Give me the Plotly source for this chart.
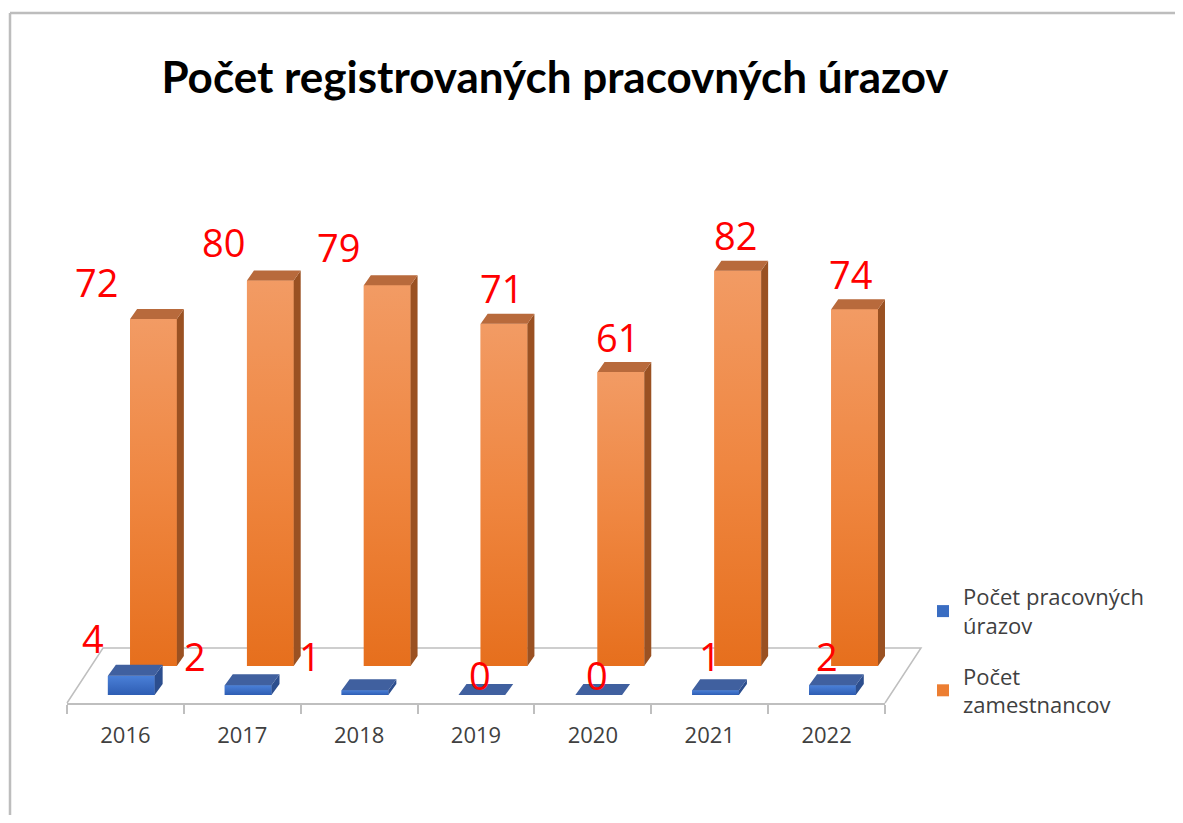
import plotly.graph_objects as go

# ---------------- data ----------------
years = ["2016", "2017", "2018", "2019", "2020", "2021", "2022"]
urazy = [4, 2, 1, 0, 0, 1, 2]                       # Počet pracovných úrazov
zamestnanci = [72, 80, 79, 71, 61, 82, 74]          # Počet zamestnancov
name_urazy = "Počet pracovných<br>úrazov"
name_zam = "Počet<br>zamestnancov"
title_text = "Počet registrovaných pracovných úrazov"

# ---------------- styling / geometry ----------------
SHIFT = 8                 # page body margin of the html page
W, H = 1183 - 2 * SHIFT, 823 - 2 * SHIFT


def fx(p):                # reference pixel -> figure pixel
    return p - SHIFT


PL, PR = fx(67), fx(885)          # plot area (x)
PT, PB = fx(100), fx(703)         # plot area (y)
PX_PER_CAT = (PR - PL) / len(years)
PX_PER_UNIT = 4.82
BLUE_BASE_PX = fx(695)
ORANGE_BASE_PX = fx(666)

BAR_W = 0.40
BLUE_OFF = -0.15
OR_OFF = 0.04
DX_B, DY_B = 8 / PX_PER_CAT, 11 / PX_PER_UNIT
DX_O, DY_O = 7 / PX_PER_CAT, 10 / PX_PER_UNIT

blue_label_dx = [-38, -53, -55, -2, -2, -6, -5]
blue_label_dy = [38, 29, 34, 20, 20, 34, 29]
or_label_dx = [-57, -47, -49, -3, -3, -2, -4]
or_label_dy = [37, 38, 38, 36, 35, 36, 35]

C_OR_FRONT = "#EC7E32"
C_OR_GRAD = [[0, "#E66F1D"], [0.5, "#EF8640"], [1, "#F29B64"]]
C_OR_TOP = "#B86A3C"
C_OR_SIDE = "#9A5122"
C_BL_FRONT = "#3A6DC2"
C_BL_GRAD = [[0, "#2E5DB3"], [1, "#4A80D8"]]
C_BL_TOP = "#40609F"
C_BL_SIDE = "#2C4E8E"
TXT = "#404040"
GRID = "#BFBFBF"

idx = list(range(len(years)))


def faces(values, off, dx, dy):
    tx, ty, sx, sy = [], [], [], []
    for i, v in zip(idx, values):
        x0 = i + off
        x1 = x0 + BAR_W
        tx += [x0, x1, x1 + dx, x0 + dx, x0, None]
        ty += [v, v, v + dy, v + dy, v, None]
        sx += [x1, x1, x1 + dx, x1 + dx, x1, None]
        sy += [0, v, v + dy, dy, 0, None]
    return tx, ty, sx, sy


def add_gradient_fronts(fig, values, off, scale, yaxis):
    for i, v in zip(idx, values):
        if v <= 0:
            continue
        x0 = i + off
        x1 = x0 + BAR_W
        fig.add_trace(go.Scatter(
            x=[x0, x1, x1, x0, x0], y=[0, 0, v, v, 0], fill="toself", mode="none",
            fillgradient=dict(type="vertical", colorscale=scale, start=0, stop=v),
            yaxis=yaxis, showlegend=False, hoverinfo="skip"))


fig = go.Figure()

# blue (front row) on yaxis2 (drawn on top)
fig.add_trace(go.Bar(x=idx, y=urazy, width=BAR_W, offset=BLUE_OFF,
                     marker=dict(color=C_BL_FRONT, line=dict(width=0)),
                     name=name_urazy, yaxis="y2", legendgroup="a"))
add_gradient_fronts(fig, urazy, BLUE_OFF, C_BL_GRAD, "y2")
btx, bty, bsx, bsy = faces(urazy, BLUE_OFF, DX_B, DY_B)
fig.add_trace(go.Scatter(x=bsx, y=bsy, fill="toself", mode="none", fillcolor=C_BL_SIDE,
                         yaxis="y2", showlegend=False, hoverinfo="skip"))
fig.add_trace(go.Scatter(x=btx, y=bty, fill="toself", mode="none", fillcolor=C_BL_TOP,
                         yaxis="y2", showlegend=False, hoverinfo="skip"))

# orange (back row) on yaxis
fig.add_trace(go.Bar(x=idx, y=zamestnanci, width=BAR_W, offset=OR_OFF,
                     marker=dict(color=C_OR_FRONT, line=dict(width=0)),
                     name=name_zam, yaxis="y", legendgroup="b"))
add_gradient_fronts(fig, zamestnanci, OR_OFF, C_OR_GRAD, "y")
otx, oty, osx, osy = faces(zamestnanci, OR_OFF, DX_O, DY_O)
fig.add_trace(go.Scatter(x=osx, y=osy, fill="toself", mode="none", fillcolor=C_OR_SIDE,
                         yaxis="y", showlegend=False, hoverinfo="skip"))
fig.add_trace(go.Scatter(x=otx, y=oty, fill="toself", mode="none", fillcolor=C_OR_TOP,
                         yaxis="y", showlegend=False, hoverinfo="skip"))

# data labels
annotations = []
for i, v in enumerate(zamestnanci):
    annotations.append(dict(x=i + OR_OFF + BAR_W / 2, y=v, xref="x", yref="y",
                            text=str(v), showarrow=False,
                            xshift=or_label_dx[i], yshift=or_label_dy[i],
                            font=dict(family="Open Sans", size=38, color="#FF0000")))
for i, v in enumerate(urazy):
    annotations.append(dict(x=i + BLUE_OFF + BAR_W / 2, y=v, xref="x", yref="y2",
                            text=str(v), showarrow=False,
                            xshift=blue_label_dx[i], yshift=blue_label_dy[i],
                            font=dict(family="Open Sans", size=38, color="#FF0000")))


def px_x(p):              # reference pixel -> paper fraction
    return (fx(p) - PL) / (PR - PL)


def px_y(p):
    return (PB - fx(p)) / (PB - PT)


shapes = [
    # floor (back, left, right edges; front edge is the x axis line)
    dict(type="path", xref="paper", yref="paper",
         path=f"M {px_x(67)} {px_y(703)} L {px_x(103)} {px_y(648)} L {px_x(921)} {px_y(648)} L {px_x(885)} {px_y(703)}",
         line=dict(color=GRID, width=1.5), layer="below"),
    # outer frame
    dict(type="line", xref="paper", yref="paper", x0=px_x(10), x1=px_x(1200),
         y0=px_y(13), y1=px_y(13), line=dict(color="#BDBDBD", width=2.5)),
    dict(type="line", xref="paper", yref="paper", x0=px_x(10), x1=px_x(10),
         y0=px_y(13), y1=px_y(840), line=dict(color="#BDBDBD", width=2.5)),
]

fig.update_layout(
    width=W, height=H,
    margin=dict(l=PL, r=W - PR, t=PT, b=H - PB, pad=0),
    paper_bgcolor="white", plot_bgcolor="rgba(0,0,0,0)",
    barmode="overlay",
    title=dict(text=f"<b>{title_text}</b>", x=fx(555) / W, y=1 - fx(78) / H,
               xref="container", yref="container", xanchor="center", yanchor="middle",
               font=dict(family="Lato", size=44, color="#000000")),
    xaxis=dict(range=[-0.5, len(years) - 0.5], tickvals=idx, ticktext=years,
               showgrid=False, zeroline=False, showline=True, linecolor=GRID, linewidth=1.5,
               ticks="", tickfont=dict(family="Open Sans", size=22, color=TXT),
               ticklabelstandoff=12,
               minor=dict(tickvals=[i - 0.5 for i in range(len(years) + 1)], ticks="outside",
                          ticklen=9, tickcolor=GRID, tickwidth=1.5, showgrid=False),
               fixedrange=True),
    yaxis=dict(range=[-(PB - ORANGE_BASE_PX) / PX_PER_UNIT, (ORANGE_BASE_PX - PT) / PX_PER_UNIT],
               visible=False, fixedrange=True),
    yaxis2=dict(range=[-(PB - BLUE_BASE_PX) / PX_PER_UNIT, (BLUE_BASE_PX - PT) / PX_PER_UNIT],
                overlaying="y", visible=False, fixedrange=True),
    legend=dict(x=px_x(923), y=px_y(576), xanchor="left", yanchor="top",
                font=dict(family="Open Sans", size=22, color=TXT),
                tracegroupgap=19, bgcolor="rgba(0,0,0,0)"),
    annotations=annotations,
    shapes=shapes,
    showlegend=True,
)

fig.write_html("out.html")
